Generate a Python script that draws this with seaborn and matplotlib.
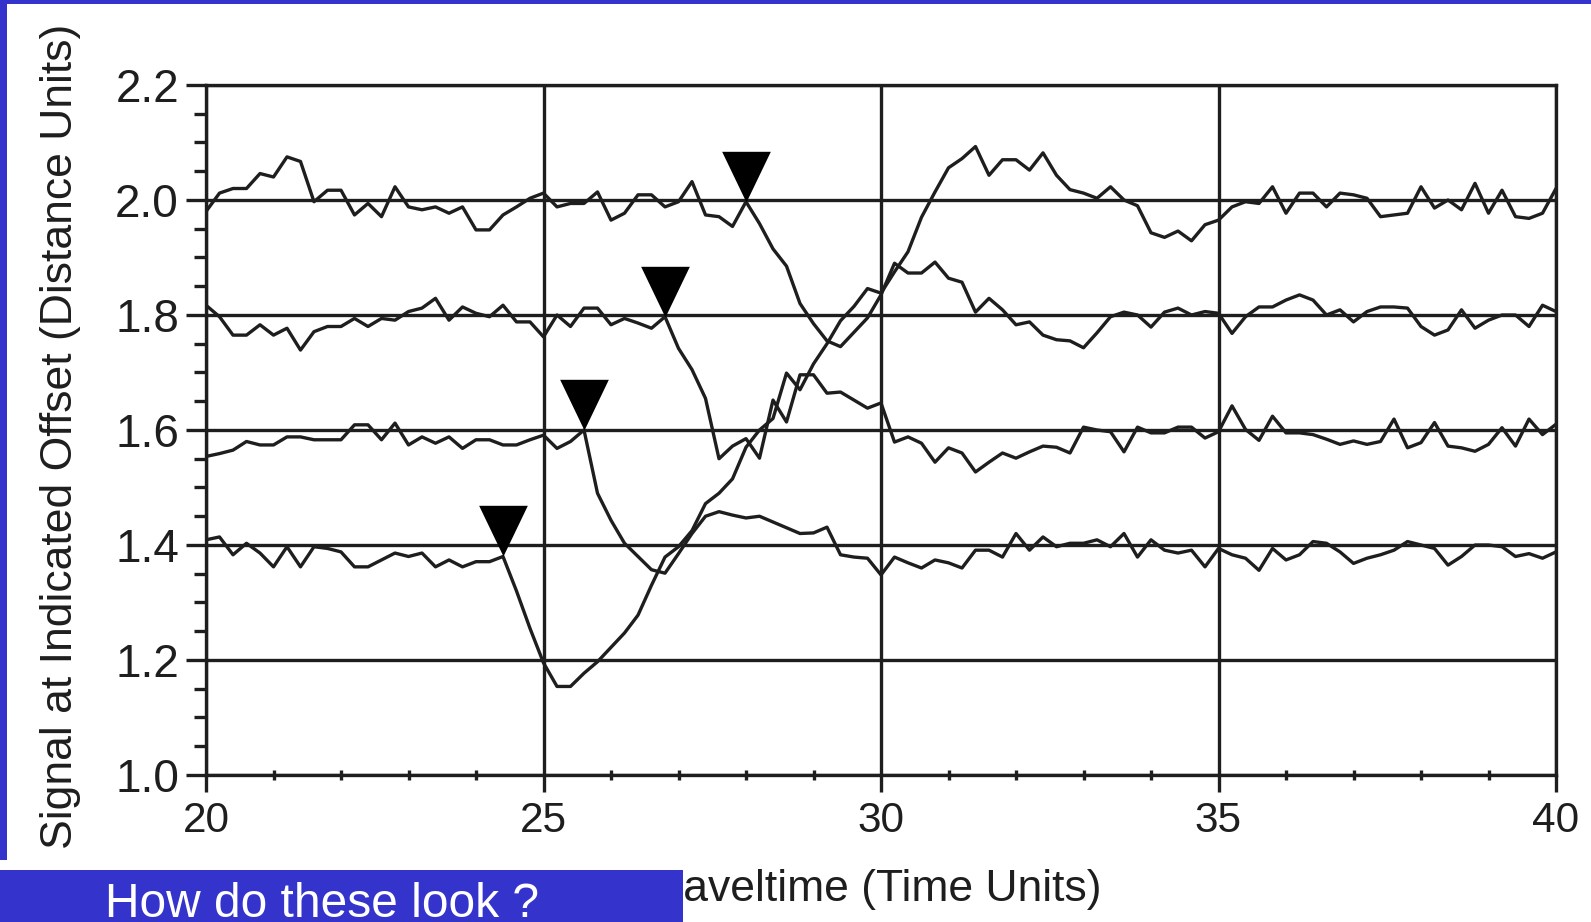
import numpy as np
import pandas as pd
import matplotlib
matplotlib.use("Agg")
import matplotlib.pyplot as plt
from matplotlib.patches import Rectangle
from matplotlib.path import Path
from matplotlib.ticker import MultipleLocator, FixedLocator
import seaborn as sns

# ---------------------------------------------------------------- data
# sample times (0.2 time-unit spacing between 20 and 40)
time = np.round(np.linspace(20.0, 40.0, 101), 1)

trace_a = [
    1.980, 2.012, 2.020, 2.020, 2.046, 2.040, 2.075, 2.067, 1.997, 2.017,
    2.017, 1.974, 1.994, 1.971, 2.023, 1.988, 1.983, 1.988, 1.977, 1.988,
    1.948, 1.948, 1.974, 1.988, 2.003, 2.012, 1.988, 1.994, 1.994, 2.014,
    1.965, 1.977, 2.009, 2.009, 1.988, 1.997, 2.032, 1.974, 1.971, 1.954,
    1.997, 1.959, 1.915, 1.885, 1.820, 1.785, 1.755, 1.745, 1.770, 1.795,
    1.835, 1.890, 1.873, 1.873, 1.892, 1.864, 1.857, 1.805, 1.829, 1.809,
    1.783, 1.788, 1.765, 1.757, 1.755, 1.743, 1.769, 1.797, 1.805, 1.800,
    1.779, 1.805, 1.812, 1.800, 1.806, 1.803, 1.768, 1.797, 1.814, 1.814,
    1.826, 1.835, 1.826, 1.800, 1.809, 1.788, 1.806, 1.814, 1.814, 1.812,
    1.780, 1.765, 1.774, 1.809, 1.777, 1.791, 1.800, 1.800, 1.780, 1.817,
    1.806,
]

trace_b = [
    1.817, 1.797, 1.765, 1.765, 1.783, 1.765, 1.777, 1.739, 1.771, 1.780,
    1.780, 1.794, 1.780, 1.794, 1.791, 1.806, 1.812, 1.829, 1.791, 1.814,
    1.803, 1.797, 1.817, 1.788, 1.788, 1.762, 1.800, 1.780, 1.812, 1.812,
    1.783, 1.794, 1.786, 1.777, 1.797, 1.742, 1.705, 1.655, 1.550, 1.572,
    1.585, 1.551, 1.652, 1.614, 1.696, 1.696, 1.664, 1.666, 1.652, 1.638,
    1.647, 1.579, 1.588, 1.577, 1.544, 1.569, 1.560, 1.527, 1.544, 1.560,
    1.551, 1.562, 1.572, 1.570, 1.560, 1.605, 1.600, 1.597, 1.562, 1.605,
    1.595, 1.595, 1.605, 1.605, 1.586, 1.597, 1.642, 1.601, 1.582, 1.624,
    1.595, 1.595, 1.592, 1.584, 1.575, 1.581, 1.575, 1.580, 1.619, 1.569,
    1.578, 1.613, 1.572, 1.569, 1.563, 1.575, 1.604, 1.572, 1.619, 1.592,
    1.610,
]

trace_c = [
    1.554, 1.559, 1.565, 1.580, 1.574, 1.574, 1.588, 1.588, 1.583, 1.583,
    1.583, 1.609, 1.609, 1.583, 1.612, 1.574, 1.588, 1.577, 1.588, 1.568,
    1.583, 1.583, 1.574, 1.574, 1.583, 1.591, 1.568, 1.580, 1.600, 1.490,
    1.443, 1.403, 1.380, 1.357, 1.351, 1.385, 1.420, 1.450, 1.458, 1.452,
    1.447, 1.450, 1.440, 1.430, 1.420, 1.421, 1.431, 1.383, 1.379, 1.377,
    1.348, 1.379, 1.369, 1.360, 1.374, 1.369, 1.360, 1.391, 1.391, 1.379,
    1.420, 1.391, 1.414, 1.397, 1.403, 1.403, 1.409, 1.397, 1.420, 1.379,
    1.409, 1.391, 1.386, 1.391, 1.362, 1.394, 1.383, 1.377, 1.356, 1.394,
    1.374, 1.383, 1.406, 1.403, 1.388, 1.368, 1.377, 1.383, 1.391, 1.406,
    1.400, 1.394, 1.365, 1.380, 1.400, 1.400, 1.397, 1.380, 1.385, 1.377,
    1.388,
]

trace_d = [
    1.409, 1.414, 1.383, 1.403, 1.386, 1.362, 1.397, 1.362, 1.397, 1.394,
    1.388, 1.362, 1.362, 1.374, 1.386, 1.380, 1.386, 1.362, 1.374, 1.362,
    1.371, 1.371, 1.380, 1.320, 1.255, 1.195, 1.154, 1.154, 1.177, 1.197,
    1.222, 1.247, 1.278, 1.330, 1.379, 1.397, 1.425, 1.472, 1.490, 1.515,
    1.570, 1.600, 1.620, 1.699, 1.670, 1.715, 1.750, 1.790, 1.815, 1.846,
    1.838, 1.875, 1.910, 1.970, 2.014, 2.056, 2.072, 2.093, 2.043, 2.070,
    2.070, 2.052, 2.082, 2.043, 2.018, 2.012, 2.003, 2.023, 2.000, 1.990,
    1.943, 1.935, 1.946, 1.929, 1.957, 1.965, 1.988, 1.997, 1.994, 2.023,
    1.977, 2.012, 2.012, 1.988, 2.012, 2.009, 2.003, 1.971, 1.974, 1.977,
    2.023, 1.986, 2.000, 1.983, 2.029, 1.977, 2.017, 1.971, 1.968, 1.977,
    2.020,
]

trace_names = ["A", "B", "C", "D"]
# sample index of the picked onset on each trace
pick_index = {"A": 40, "B": 34, "C": 28, "D": 22}

x_major = [20, 25, 30, 35, 40]
x_labels = ["20", "25", "30", "35", "40"]
y_major = [1.0, 1.2, 1.4, 1.6, 1.8, 2.0, 2.2]
y_labels = ["1.0", "1.2", "1.4", "1.6", "1.8", "2.0", "2.2"]

x_title = "Traveltime (Time Units)"
y_title = "Signal at Indicated Offset (Distance Units)"
banner = "How do these look ?"

# ---------------------------------------------------------------- frame
traces = {"A": trace_a, "B": trace_b, "C": trace_c, "D": trace_d}
df = pd.concat(
    [pd.DataFrame({"time": time, "signal": traces[n], "trace": n}) for n in trace_names],
    ignore_index=True,
)
picks = pd.DataFrame({
    "time": [time[pick_index[n]] for n in trace_names],
    "signal": [traces[n][pick_index[n]] for n in trace_names],
})

# ---------------------------------------------------------------- style
sns.set_theme(style="white")
plt.rcParams["font.family"] = ["Liberation Sans", "DejaVu Sans"]

INK = "#1e1e1e"
BLUE = "#3434cc"
LW = 2.4

W, H = 1591, 922
fig = plt.figure(figsize=(W / 100, H / 100), dpi=100, facecolor="white")
ax = fig.add_axes([206 / W, 1 - 775 / H, 1350 / W, 690 / H])
ax.set_facecolor("white")

sns.lineplot(
    data=df, x="time", y="signal", units="trace", estimator=None,
    color=INK, lw=LW, sort=False, ax=ax, zorder=3, legend=False,
)

# downward triangles whose tip sits on the picked sample
tri = Path([(-0.48, 1.0), (0.48, 1.0), (0.0, 0.0), (-0.48, 1.0)],
           [Path.MOVETO, Path.LINETO, Path.LINETO, Path.CLOSEPOLY])
sns.scatterplot(
    data=picks, x="time", y="signal", marker=tri, s=73 ** 2,
    color="black", linewidth=0, ax=ax, zorder=4, legend=False,
)

ax.set_xlim(20, 40)
ax.set_ylim(1.0, 2.2)
ax.xaxis.set_major_locator(FixedLocator(x_major))
ax.set_xticklabels(x_labels)
ax.xaxis.set_minor_locator(MultipleLocator(1))
ax.yaxis.set_major_locator(FixedLocator(y_major))
ax.set_yticklabels(y_labels)
ax.yaxis.set_minor_locator(MultipleLocator(0.05))

ax.grid(True, which="major", color=INK, lw=LW, zorder=1)
ax.set_axisbelow(True)
for side in ["left", "right", "top", "bottom"]:
    ax.spines[side].set_visible(True)
    ax.spines[side].set_color(INK)
    ax.spines[side].set_linewidth(LW)

ax.tick_params(axis="x", which="major", direction="out", length=12.5, width=LW,
               color=INK, labelsize=30.5, labelcolor=INK, pad=6.5, bottom=True)
ax.tick_params(axis="x", which="minor", direction="inout", length=7.5, width=LW,
               color=INK, bottom=True)
ax.tick_params(axis="y", which="major", direction="out", length=14.5, width=LW,
               color=INK, labelsize=33, labelcolor=INK, pad=5, left=True)
ax.tick_params(axis="y", which="minor", direction="out", length=8.5, width=LW,
               color=INK, left=True)

ax.set_xlabel(x_title, fontsize=32, color=INK, va="top")
ax.xaxis.set_label_coords(0.4933, -0.1357)
ax.set_ylabel(y_title, fontsize=32, color=INK, va="center")
ax.yaxis.set_label_coords(-0.108, 0.491)

# ---------------------------------------------------------------- slide frame
def px_rect(x0, y0, x1, y1, z):
    r = Rectangle((x0 / W, 1 - y1 / H), (x1 - x0) / W, (y1 - y0) / H,
                  transform=fig.transFigure, facecolor=BLUE, edgecolor="none",
                  zorder=z)
    fig.add_artist(r)

px_rect(0, 0, W, 4, 5)
px_rect(0, 0, 7, 860, 5)
px_rect(0, 870, 683, H, 5)
fig.text(105 / W, 5 / H, banner, color="white", fontsize=34.5,
         ha="left", va="baseline", zorder=6)

fig.savefig("out.png", dpi=100, facecolor="white")
